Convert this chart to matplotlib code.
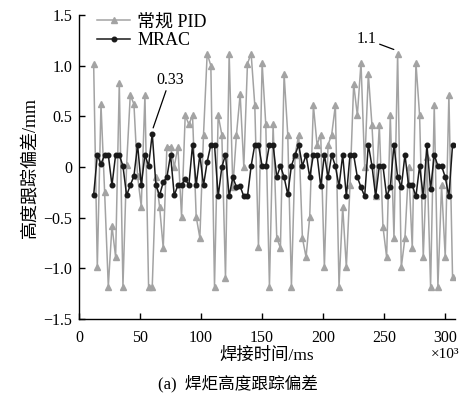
import matplotlib
matplotlib.use("Agg")
import matplotlib.pyplot as plt
import numpy as np

plt.rcParams['font.family'] = ['Liberation Serif', 'Noto Sans CJK SC']
plt.rcParams['axes.unicode_minus'] = True

# time (x10^3 ms)
t = [12 + 3 * i for i in range(99)]

pid = [1.02, -0.99, 0.62, -0.25, -1.18, -0.58, -0.89, 0.83, -1.18, 0.02,
       0.71, 0.62, -0.09, -0.39, 0.71, -1.18, -1.18, -0.10, -0.39, -0.80,
       0.20, 0.20, 0.00, 0.20, -0.49, 0.51, 0.42, 0.51, -0.49, -0.70,
       0.32, 1.12, 1.00, -1.18, 0.51, 0.32, -1.10, 1.12, -0.20, 0.32,
       0.72, 0.00, 1.02, 1.12, 0.61, -0.79, 1.03, 0.42, -1.18, 0.42,
       -0.70, -0.80, 0.92, 0.32, -1.18, 0.12, 0.32, -0.70, -0.89, -0.49,
       0.61, 0.22, 0.32, -0.99, 0.22, 0.32, 0.61, -1.18, -0.39, -0.99,
       -0.18, 0.82, 0.51, 1.03, 0.00, 0.92, 0.41, -0.29, 0.41, -0.59,
       -0.89, 0.51, -0.70, 1.12, -0.99, -0.70, 0.00, -0.80, 1.03, 0.51,
       -0.89, 0.10, -1.18, 0.61, -1.18, -0.18, -0.89, 0.71, -1.09]

mrac = [-0.28, 0.12, 0.03, 0.12, 0.12, -0.18, 0.12, 0.12, 0.01, -0.28,
        -0.18, -0.09, 0.22, -0.18, 0.12, 0.01, 0.33, -0.18, -0.28, -0.15,
        -0.10, 0.12, -0.28, -0.18, -0.18, -0.12, -0.18, 0.22, -0.18, 0.12,
        -0.18, 0.05, 0.22, 0.22, -0.29, 0.00, 0.12, -0.29, -0.10, -0.20,
        -0.19, -0.29, -0.29, 0.01, 0.22, 0.22, 0.01, 0.01, 0.22, 0.22,
        -0.10, 0.01, -0.10, -0.27, 0.01, 0.12, 0.22, 0.01, 0.12, -0.10,
        0.12, 0.12, -0.19, 0.12, -0.10, 0.12, 0.01, -0.19, 0.12, -0.29,
        0.12, 0.12, -0.10, -0.20, -0.29, 0.22, 0.01, -0.29, 0.01, 0.01,
        -0.29, -0.20, 0.22, -0.10, -0.20, 0.12, -0.18, -0.18, -0.29, 0.01,
        -0.29, 0.22, -0.22, 0.12, 0.01, 0.01, -0.10, -0.29, 0.22]

xticks = [0, 50, 100, 150, 200, 250, 300]
yticks = [-1.5, -1.0, -0.5, 0, 0.5, 1.0, 1.5]
yticklabels = ['−1.5', '−1.0', '−0.5', '0', '0.5', '1.0', '1.5']

fig = plt.figure(figsize=(4.64, 4.01), dpi=100)
ax = fig.add_axes([79/464, 1 - 319/401, (455 - 79)/464, (319 - 15)/401])

gray = '#a3a3a3'
ax.plot(t, pid, color=gray, lw=1.1, marker='^', ms=4.2, mfc=gray, mec=gray,
        label='常规 PID', zorder=2)
ax.plot(t, mrac, color='#1a1a1a', lw=1.1, marker='o', ms=3.3, mfc='#1a1a1a',
        mec='#1a1a1a', label='MRAC', zorder=3)

ax.set_xlim(0, 308)
ax.set_ylim(-1.5, 1.5)
ax.set_xticks(xticks)
ax.set_yticks(yticks)
ax.set_yticklabels(yticklabels)
for s in ['top', 'right']:
    ax.spines[s].set_visible(False)
for s in ['left', 'bottom']:
    ax.spines[s].set_linewidth(1.0)
ax.tick_params(direction='in', length=4, width=1.0, labelsize=11.5)
ax.tick_params(axis='x', pad=8)
ax.tick_params(axis='y', pad=5)

ax.set_xlabel('焊接时间/ms', fontsize=12.5, labelpad=1)
ax.set_ylabel('高度跟踪偏差/mm', fontsize=13, labelpad=3)
fig.text(445/464, 1 - 354/401, '×10³', fontsize=11, ha='center', va='center')
fig.text(238/464, 1 - 383/401, '(a)  焊炬高度跟踪偏差', fontsize=12,
         ha='center', va='center')

leg = ax.legend(loc='upper left', bbox_to_anchor=(0.02, 1.04), frameon=False,
                fontsize=13, handlelength=1.8, handletextpad=0.4,
                labelspacing=0.1, borderaxespad=0.2)

ax.annotate('0.33', xy=(t[16], mrac[16] + 0.03), xytext=(t[16] + 3, 0.78),
            fontsize=11.5, ha='left', va='bottom',
            arrowprops=dict(arrowstyle='-', color='black', lw=0.9,
                            shrinkA=0, shrinkB=2))
ax.annotate('1.1', xy=(t[83] - 1, pid[83] + 0.03), xytext=(t[83] - 17, 1.18),
            fontsize=11.5, ha='right', va='bottom',
            arrowprops=dict(arrowstyle='-', color='black', lw=0.9,
                            shrinkA=0, shrinkB=2))

fig.savefig('out.png', dpi=100)
